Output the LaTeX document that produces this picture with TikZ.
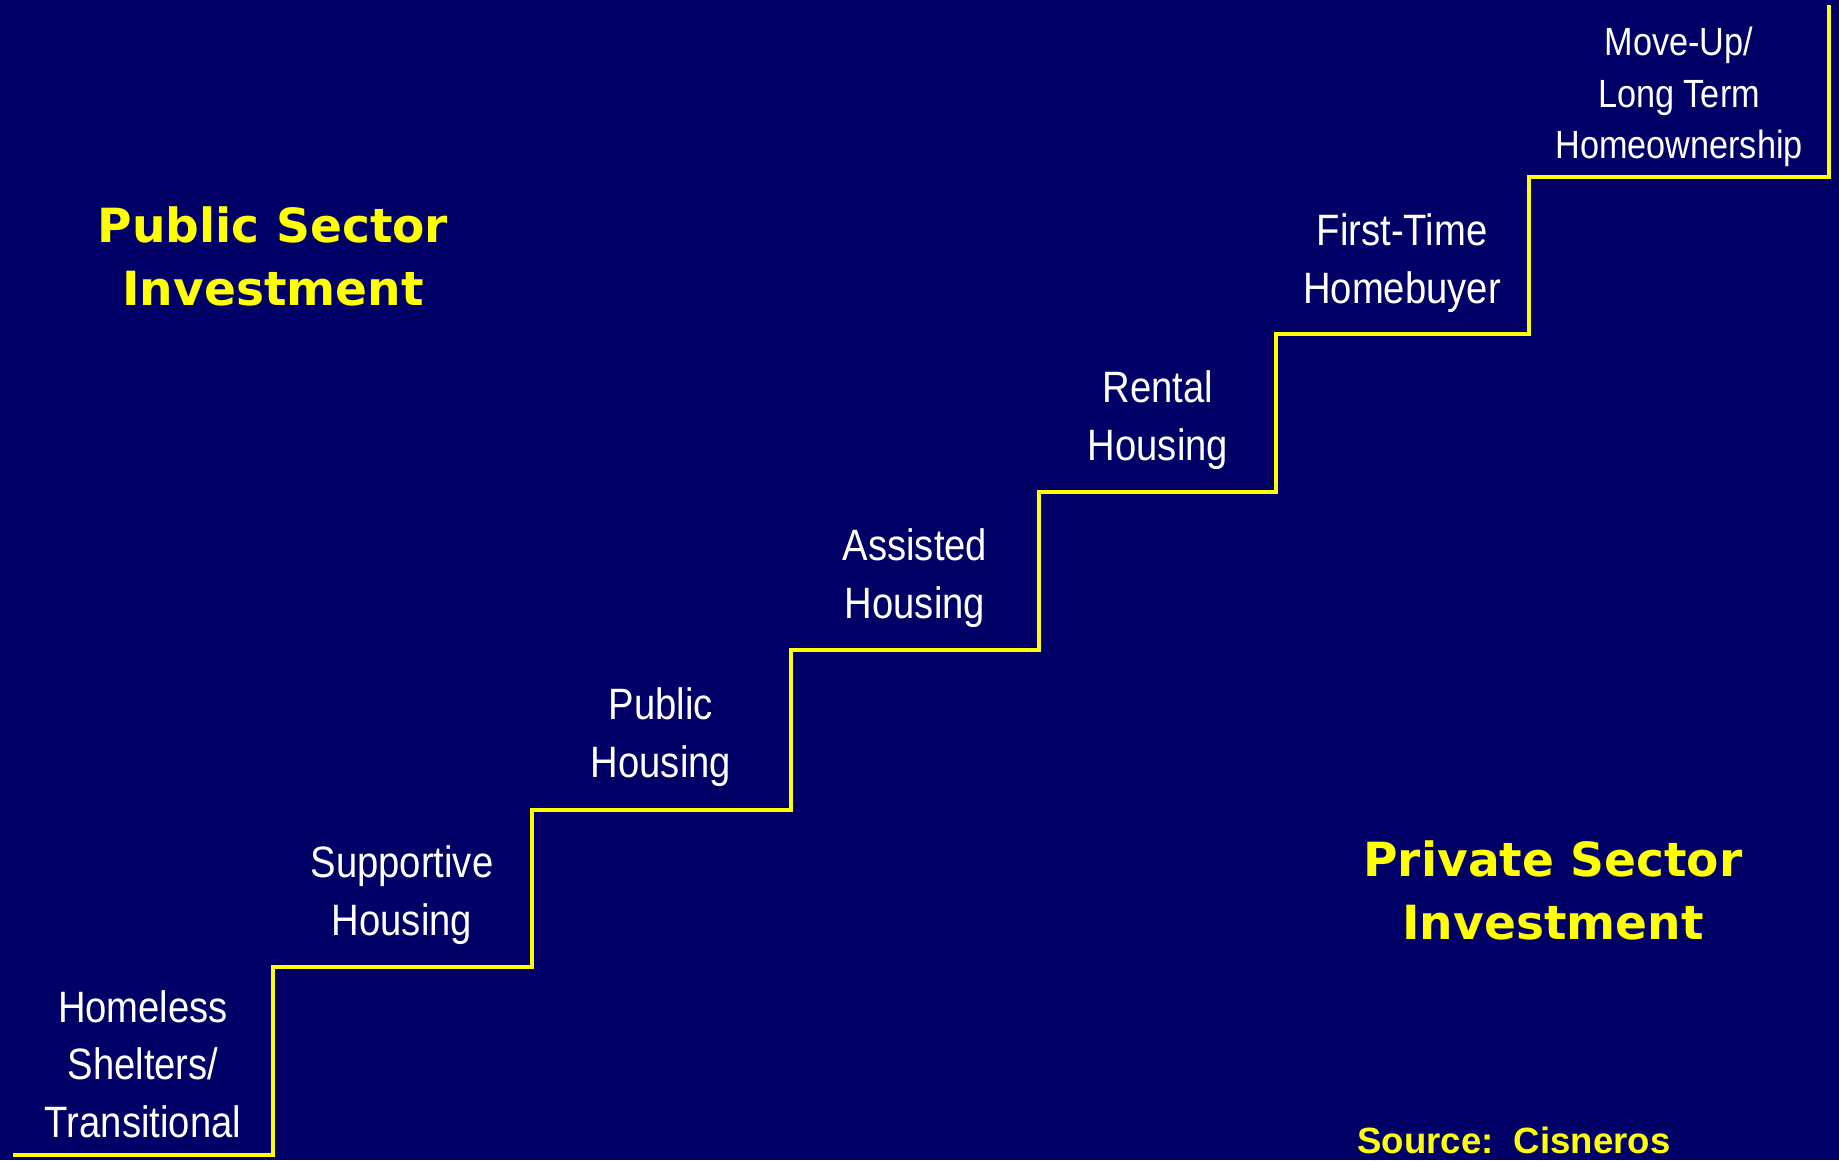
\documentclass[tikz,border=0pt]{standalone}
\usepackage{fontspec}
\setmainfont{Liberation Sans}[FakeStretch=0.87]
\newfontfamily\headfont{DejaVu Sans}
\newfontfamily\srcfont{Liberation Sans}
\definecolor{slidebg}{RGB}{0,0,102}
\definecolor{stairyellow}{RGB}{255,255,0}

\begin{document}
\begin{tikzpicture}[line width=1.1pt]
        \tikzstyle{stage}=[text=white, align=center, inner sep=0pt, font=\fontsize{12.5}{16.4}\selectfont]
        \tikzstyle{topstage}=[stage, font=\fontsize{11.2}{14.7}\selectfont]
        \tikzstyle{sector}=[text=stairyellow, align=center, inner sep=0pt, font=\headfont\bfseries\fontsize{13.4}{17.9}\selectfont]
        \tikzstyle{source}=[text=stairyellow, inner sep=0pt, font=\srcfont\bfseries\fontsize{10.4}{12}\selectfont]

        \useasboundingbox (0,0) rectangle (18.39,11.60);
        \fill[slidebg] (0,0) rectangle (18.39,11.60);

        % the staircase
        \draw[stairyellow] (0.13,0.05) -- (2.73,0.05) -- (2.73,1.93) -- (5.32,1.93) -- (5.32,3.50)
            -- (7.91,3.50) -- (7.91,5.10) -- (10.39,5.10) -- (10.39,6.68) -- (12.76,6.68)
            -- (12.76,8.26) -- (15.29,8.26) -- (15.29,9.83) -- (18.29,9.83) -- (18.29,11.55);

        \node[stage] (shelters) at (1.43,0.96) {Homeless\\Shelters/\\Transitional};
        \node[stage] (supportive) at (4.02,2.65) {Supportive\\Housing};
        \node[stage] (public) at (6.61,4.23) {Public\\Housing};
        \node[stage] (assisted) at (9.15,5.82) {Assisted\\Housing};
        \node[stage] (rental) at (11.58,7.40) {Rental\\Housing};
        \node[stage] (firsttime) at (14.02,8.97) {First-Time\\Homebuyer};
        \node[topstage] (moveup) at (16.79,10.63) {Move-Up/\\Long Term\\Homeownership};

        \node[sector] (publicsector) at (2.73,9.04) {Public Sector\\Investment};
        \node[sector] (privatesector) at (15.53,2.70) {Private Sector\\Investment};

        \node[source] (cisneros) at (15.14,0.20) {Source:\ \ Cisneros};
    \end{tikzpicture}
\end{document}
